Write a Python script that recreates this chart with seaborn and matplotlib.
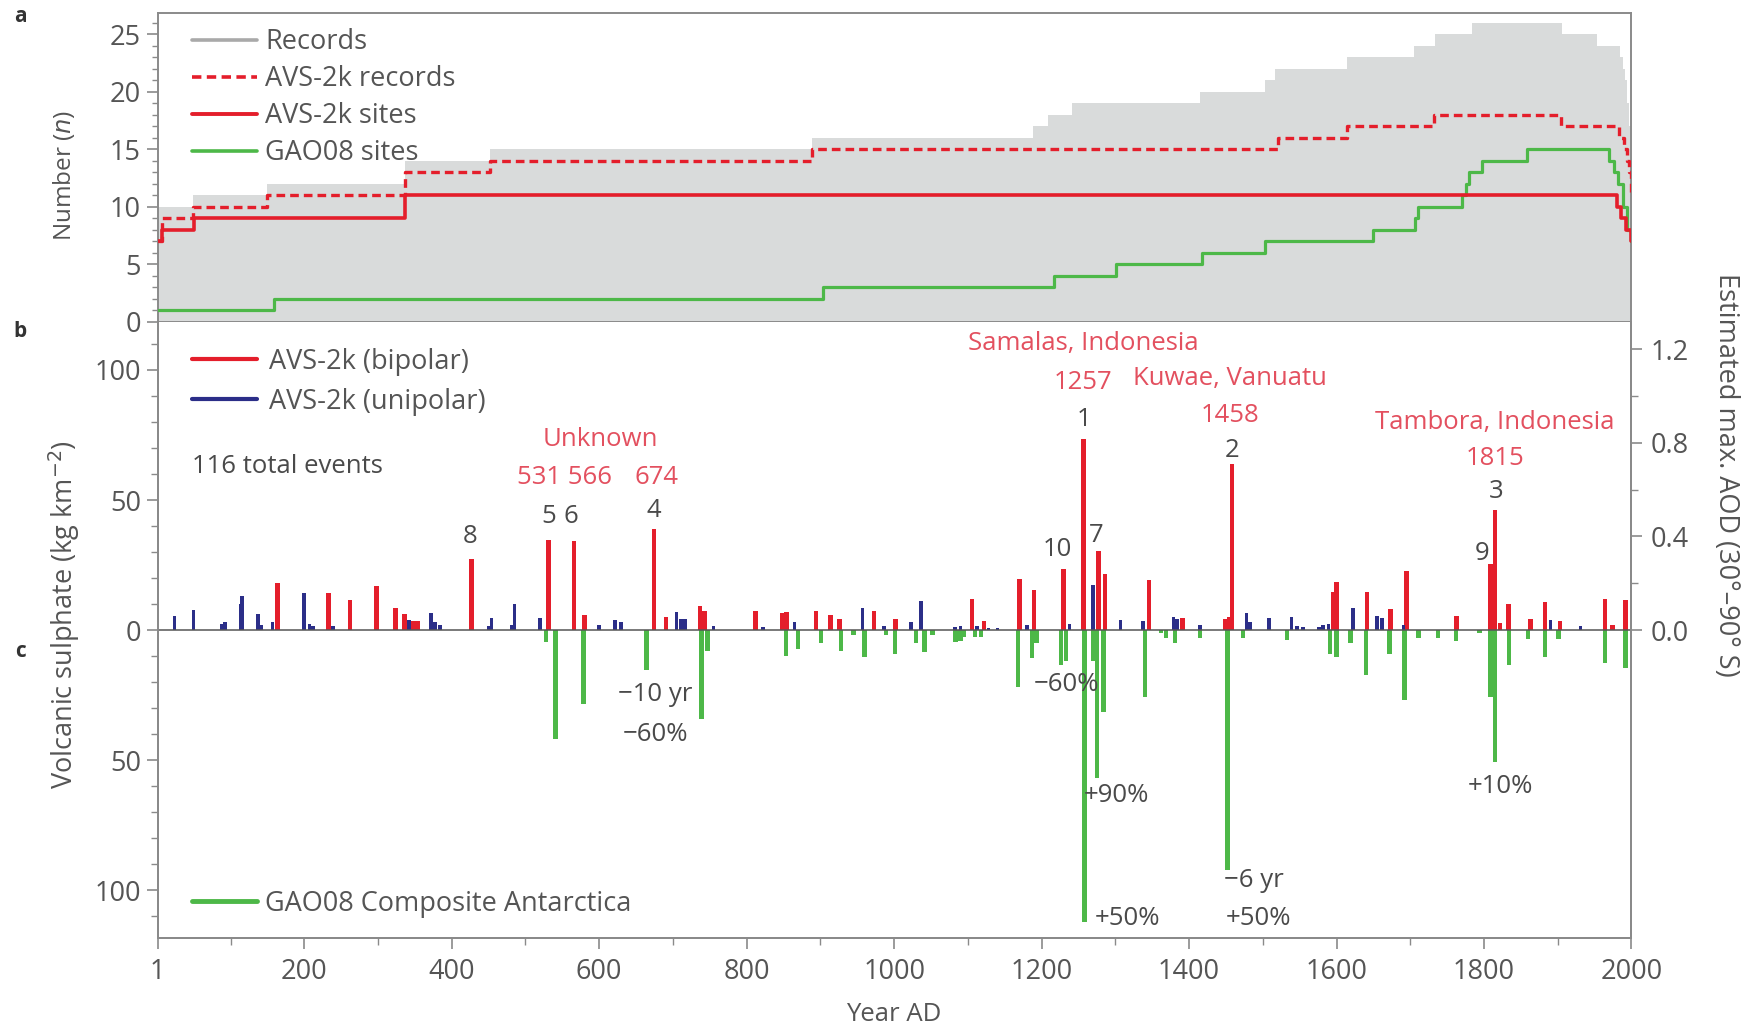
import numpy as np
import pandas as pd
import matplotlib
matplotlib.use("Agg")
import matplotlib.pyplot as plt
import seaborn as sns
from matplotlib.lines import Line2D
from matplotlib.ticker import MultipleLocator, FixedLocator, FuncFormatter

sns.set_theme(style="ticks")
plt.rcParams['font.family'] = ['Open Sans', 'DejaVu Sans']

# ---------------- Panel a: number of records / sites (step series) ----------------
rec_years = [1, 49, 149, 336, 452, 889, 1188, 1209, 1241, 1415, 1503, 1517, 1614, 1705,
             1733, 1784, 1906, 1953, 1985, 1988, 1991, 1994, 1997, 1999, 2000]
rec_n = [10, 11, 12, 14, 15, 16, 17, 18, 19, 20, 21, 22, 23, 24,
         25, 26, 25, 24, 23, 22, 21, 19, 17, 15, 15]

avs_rec_years = [1, 7, 49, 149, 336, 452, 889, 1521, 1614, 1732, 1904, 1983, 1990, 1994, 1997, 1999, 2000]
avs_rec_n = [7, 9, 10, 11, 13, 14, 15, 16, 17, 18, 17, 16, 15, 14, 13, 12, 11]

avs_site_years = [1, 7, 50, 336, 1980, 1986, 1993, 2000]
avs_site_n = [7, 8, 9, 11, 10, 9, 8, 7]

gao_site_years = [1, 159, 904, 1217, 1301, 1417, 1503, 1650, 1706, 1710, 1770, 1775, 1780,
                  1797, 1858, 1969, 1976, 1982, 1988, 1994, 2000]
gao_site_n = [1, 2, 3, 4, 5, 6, 7, 8, 9, 10, 11, 12, 13, 14, 15, 14, 13, 12, 10, 8, 7]

# ---------------- Panel b: AVS-2k volcanic sulphate (kg km-2) ----------------
bip_years = [164, 233, 262, 298, 324, 336, 348, 354, 427, 531, 566, 580, 674, 691, 737, 743,
             812, 848, 854, 894, 914, 926, 973, 1002, 1106, 1122, 1170, 1190, 1230, 1257,
             1277, 1286, 1346, 1391, 1449, 1454, 1458, 1595, 1600, 1641, 1673, 1695, 1763,
             1809, 1815, 1822, 1833, 1863, 1883, 1903, 1964, 1974, 1992]
bip_vals = [18.2, 14.2, 11.6, 17.1, 8.4, 6.3, 3.6, 3.6, 27.5, 34.5, 34.2, 6.0, 39.0, 5.2, 9.4, 7.3,
            7.3, 6.4, 6.8, 7.3, 6.0, 4.2, 7.3, 4.2, 11.9, 3.5, 19.6, 15.4, 23.4, 73.5,
            30.3, 21.4, 19.2, 4.5, 4.1, 4.9, 64.0, 14.7, 18.6, 14.7, 8.3, 22.7, 5.5,
            25.6, 46.0, 2.6, 10.2, 4.1, 10.9, 3.5, 11.9, 1.9, 11.5]

uni_years = [24, 50, 88, 93, 114, 116, 137, 142, 157, 200, 207, 212, 239, 342, 372, 377, 384,
             451, 454, 481, 485, 520, 600, 621, 630, 705, 711, 716, 755, 822, 865, 957, 986,
             1023, 1036, 1083, 1090, 1112, 1128, 1140, 1180, 1238, 1270, 1307, 1338, 1379,
             1384, 1415, 1478, 1483, 1508, 1539, 1546, 1555, 1576, 1582, 1589, 1622, 1655,
             1662, 1691, 1890, 1931]
uni_vals = [5.4, 7.6, 2.4, 3.3, 10.0, 13.3, 6.3, 1.8, 3.0, 14.2, 2.4, 1.5, 1.4, 4.0, 6.5, 3.3, 2.0,
            1.5, 4.6, 1.8, 10.1, 4.6, 1.8, 3.7, 3.3, 6.9, 4.3, 4.3, 1.5, 1.3, 3.2, 8.6, 1.5,
            3.2, 11.1, 1.3, 1.5, 1.5, 1.0, 1.0, 1.9, 2.2, 17.3, 3.8, 3.6, 4.9,
            4.1, 1.9, 6.4, 3.2, 4.5, 5.1, 1.5, 1.2, 1.2, 1.9, 2.5, 8.6, 5.4,
            4.7, 1.9, 3.8, 1.5]

# ---------------- Panel c: GAO08 composite Antarctica (kg km-2, plotted downward) ----------------
gao_years = [528, 541, 579, 664, 739, 747, 853, 870, 901, 928, 945, 960, 989, 1001, 1030, 1041,
             1052, 1083, 1090, 1095, 1110, 1118, 1168, 1187, 1193, 1226, 1233, 1258, 1270, 1275,
             1284, 1340, 1362, 1369, 1381, 1415, 1452, 1473, 1533, 1591, 1600, 1619, 1640, 1672,
             1692, 1711, 1738, 1762, 1794, 1809, 1815, 1834, 1860, 1883, 1901, 1964, 1992]
gao_vals = [4.5, 42.0, 28.5, 15.4, 34.0, 8.1, 9.9, 7.3, 5.1, 8.1, 1.7, 10.2, 1.9, 9.0, 5.1, 8.6,
            1.7, 4.5, 4.0, 2.5, 2.6, 2.6, 21.8, 10.9, 5.1, 13.4, 12.0, 112.0, 12.0, 56.7,
            31.4, 25.6, 1.3, 3.2, 5.1, 3.2, 92.3, 3.2, 3.8, 9.0, 10.2, 5.1, 17.3, 9.3,
            26.9, 3.2, 2.9, 4.2, 1.3, 25.6, 50.5, 13.4, 3.6, 10.2, 3.5, 12.8, 14.7]

x_ticks = [1, 200, 400, 600, 800, 1000, 1200, 1400, 1600, 1800, 2000]
aod_ticks = [0.0, 0.4, 0.8, 1.2]
AOD_FACTOR = 90.0  # kg km-2 per unit AOD

# ---------------- style ----------------
RED = '#e41e2b'
BLUE = '#2b2e88'
GREEN = '#4db848'
FILL = '#d9dbdb'
RED_TXT = '#e3505f'
TXT = '#4a4a4a'
TICKC = '#555555'
SPINE = '#8a8a8a'
FS_TICK = 19.5
FS_LEG = 19.5
FS_ANN = 18.5

fig = plt.figure(figsize=(17.52, 10.27), dpi=100)
L, R = 0.0899, 0.9312
A_BOT, A_TOP = 0.6867, 0.987
B_BOT = 0.0862
ax_a = fig.add_axes([L, A_BOT, R - L, A_TOP - A_BOT])
ax_b = fig.add_axes([L, B_BOT, R - L, A_BOT - B_BOT])

# ---- panel a ----
ax_a.fill_between(rec_years, rec_n, step='post', color=FILL, lw=0, zorder=1)
sns.lineplot(x=gao_site_years, y=gao_site_n, ax=ax_a, drawstyle='steps-post',
             color=GREEN, lw=2.3, zorder=3)
sns.lineplot(x=avs_site_years, y=avs_site_n, ax=ax_a, drawstyle='steps-post',
             color=RED, lw=2.6, zorder=4)
sns.lineplot(x=avs_rec_years, y=avs_rec_n, ax=ax_a, drawstyle='steps-post',
             color=RED, lw=2.4, linestyle=(0, (2.6, 1.5)), zorder=5)
ax_a.set_xlim(1, 2000)
ax_a.set_ylim(0, 26.8)
ax_a.set_xlabel('')
ax_a.set_ylabel('')
ax_a.yaxis.set_major_locator(FixedLocator([0, 5, 10, 15, 20, 25]))
ax_a.yaxis.set_minor_locator(MultipleLocator(1))
ax_a.tick_params(axis='x', bottom=False, labelbottom=False)
ax_a.tick_params(axis='y', which='major', length=8, width=1.2, color=SPINE,
                 labelsize=FS_TICK, labelcolor=TICKC, pad=4)
ax_a.tick_params(axis='y', which='minor', length=4, width=1.0, color=SPINE)
for s in ax_a.spines.values():
    s.set_color(SPINE)
    s.set_linewidth(1.4)

h_a = [Line2D([], [], color='#a9a9a9', lw=2.6),
       Line2D([], [], color=RED, lw=2.6, linestyle=(0, (2.6, 1.5))),
       Line2D([], [], color=RED, lw=2.8),
       Line2D([], [], color=GREEN, lw=2.6)]
leg_a = ax_a.legend(h_a, ['Records', 'AVS-2k records', 'AVS-2k sites', 'GAO08 sites'],
                    loc='upper left', bbox_to_anchor=(0.0235, 0.951), frameon=False,
                    borderaxespad=0, borderpad=0, handlelength=2.4, handletextpad=0.3,
                    labelspacing=0.33, fontsize=FS_LEG)
for t in leg_a.get_texts():
    t.set_color(TICKC)

# ---- panel b/c ----
ax_b.bar(gao_years, -np.asarray(gao_vals), width=6, color=GREEN, lw=0, zorder=2)
ax_b.bar(bip_years, bip_vals, width=6, color=RED, lw=0, zorder=3)
ax_b.bar(uni_years, uni_vals, width=5, color=BLUE, lw=0, zorder=3)
ax_b.axhline(0, color='#555555', lw=1.1, zorder=4)
ax_b.set_xlim(1, 2000)
YL = 118.5
ax_b.set_ylim(-YL, YL)
ax_b.yaxis.set_major_locator(FixedLocator([-100, -50, 0, 50, 100]))
ax_b.yaxis.set_minor_locator(MultipleLocator(10))
ax_b.yaxis.set_major_formatter(FuncFormatter(lambda v, p: f"{abs(int(round(v)))}"))
ax_b.xaxis.set_major_locator(FixedLocator(x_ticks))
ax_b.xaxis.set_minor_locator(FixedLocator(list(range(100, 2000, 200))))
ax_b.xaxis.set_major_formatter(FuncFormatter(lambda v, p: f"{int(round(v))}"))
ax_b.tick_params(axis='both', which='major', length=8, width=1.2, color=SPINE,
                 labelsize=FS_TICK, labelcolor=TICKC)
ax_b.tick_params(axis='both', which='minor', length=5, width=1.0, color=SPINE)
ax_b.tick_params(axis='x', which='major', pad=6)
ax_b.spines['top'].set_visible(False)
for k in ['left', 'bottom', 'right']:
    ax_b.spines[k].set_color(SPINE)
    ax_b.spines[k].set_linewidth(1.4)

ax_r = ax_b.twinx()
ax_r.set_ylim(-YL / AOD_FACTOR, YL / AOD_FACTOR)
ax_r.yaxis.set_major_locator(FixedLocator(aod_ticks))
ax_r.yaxis.set_minor_locator(FixedLocator([0.2, 0.6, 1.0]))
ax_r.yaxis.set_major_formatter(FuncFormatter(lambda v, p: f"{v:.1f}"))
ax_r.tick_params(axis='y', which='major', length=8, width=1.2, color=SPINE,
                 labelsize=FS_TICK, labelcolor=TICKC, pad=6)
ax_r.tick_params(axis='y', which='minor', length=5, width=1.0, color=SPINE)
ax_r.spines['top'].set_visible(False)
for k in ['left', 'bottom', 'right']:
    ax_r.spines[k].set_color(SPINE)
    ax_r.spines[k].set_linewidth(1.4)
ax_r.grid(False)

h_b = [Line2D([], [], color=RED, lw=3), Line2D([], [], color=BLUE, lw=3)]
leg_b = ax_b.legend(h_b, ['AVS-2k (bipolar)', 'AVS-2k (unipolar)'], loc='upper left',
                    bbox_to_anchor=(0.0235, 0.958), frameon=False, borderaxespad=0,
                    borderpad=0, handlelength=2.4, handletextpad=0.45, labelspacing=0.45,
                    fontsize=FS_LEG)
for t in leg_b.get_texts():
    t.set_color(TICKC)
ax_b.add_artist(leg_b)
h_c = [Line2D([], [], color=GREEN, lw=3.5)]
leg_c = ax_b.legend(h_c, ['GAO08 Composite Antarctica'], loc='lower left',
                    bbox_to_anchor=(0.0235, 0.034), frameon=False, borderaxespad=0,
                    borderpad=0, handlelength=2.4, handletextpad=0.3, fontsize=FS_LEG)
for t in leg_c.get_texts():
    t.set_color(TICKC)

# annotations
def txt(x, y, s, c=TXT, ha='center'):
    ax_b.text(x, y, s, color=c, ha=ha, va='center', fontsize=FS_ANN, zorder=6)

txt(48, 63, '116 total events', ha='left')
txt(601, 73.4, 'Unknown', RED_TXT)
txt(553, 58.8, '531 566', RED_TXT)
txt(678, 58.8, '674', RED_TXT)
txt(1256, 110.3, 'Samalas, Indonesia', RED_TXT)
txt(1256, 95.3, '1257', RED_TXT)
txt(1456, 96.6, 'Kuwae, Vanuatu', RED_TXT)
txt(1456, 82.4, '1458', RED_TXT)
txt(1815, 79.8, 'Tambora, Indonesia', RED_TXT)
txt(1815, 66.1, '1815', RED_TXT)
txt(1257, 81.1, '1')
txt(1458, 69.1, '2')
txt(1817, 53.2, '3')
txt(674, 45.9, '4')
txt(531, 43.8, '5')
txt(562, 43.8, '6')
txt(1274, 36.5, '7')
txt(425, 36.0, '8')
txt(1797, 29.6, '9')
txt(1222, 30.9, '10')
txt(676, -24.9, '\u221210 yr')
txt(676, -40.3, '\u221260%')
txt(1234, -21.0, '\u221260%')
txt(1257, -63.5, '+90%', ha='left')
txt(1272, -110.7, '+50%', ha='left')
txt(1447, -96.1, '\u22126 yr', ha='left')
txt(1450, -110.7, '+50%', ha='left')
txt(1822, -60.0, '+10%')

# axis labels and panel letters
fig.text(0.0364, 0.829, 'Number ($\\it{n}$)', rotation=90, ha='center', va='center',
         fontsize=17.5, color=TICKC)
fig.text(0.0364, 0.4015, 'Volcanic sulphate (kg km$^{-2}$)', rotation=90, ha='center',
         va='center', fontsize=19.5, color=TICKC)
fig.text(0.9853, 0.5375, 'Estimated max. AOD (30\u00b0\u201390\u00b0 S)', rotation=270,
         ha='center', va='center', fontsize=19.5, color=TICKC)
fig.text(0.51, 0.012, 'Year AD', ha='center', va='center', fontsize=18.5, color=TICKC)
for lab, yy in [('a', 0.984), ('b', 0.677), ('c', 0.366)]:
    fig.text(0.0115, yy, lab, ha='center', va='center', fontsize=15, fontweight='bold',
             color='#333333')

fig.savefig('out.png', dpi=100)
